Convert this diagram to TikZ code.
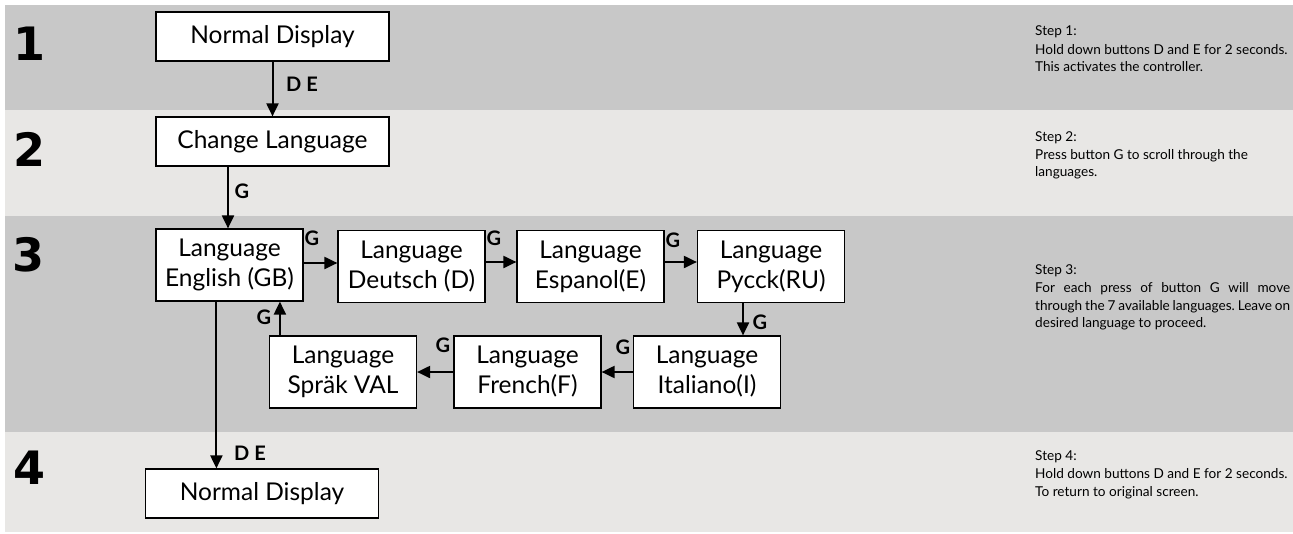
\documentclass[tikz,border=0pt]{standalone}
\usepackage{fontspec}
\setmainfont{Lato}
\newfontfamily\digitfont{DejaVu Sans}
\usetikzlibrary{arrows.meta}
\definecolor{bandA}{HTML}{C8C8C8}
\definecolor{bandB}{HTML}{E8E7E5}
\frenchspacing
\newcommand{\justline}[1]{\makebox[255pt][s]{#1}}
\begin{document}
\begin{tikzpicture}[x=1pt,y=-1pt,
  box/.style={draw=black, line width=1.2pt, fill=white, inner sep=0pt, align=center, font=\fontsize{24.5}{30}\selectfont},
  wide/.style={box, minimum width=233pt, minimum height=49pt},
  lang/.style={box, minimum width=147pt, minimum height=72pt},
  arr/.style={line width=2pt, -{Triangle[length=13pt,width=12pt]}},
  lbl/.style={font=\bfseries\fontsize{20}{22}\selectfont, inner sep=0pt},
  num/.style={font=\digitfont\bfseries\fontsize{46}{50}\selectfont, inner sep=0pt},
  steptxt/.style={anchor=base west, inner sep=0pt, font=\fontsize{13.6}{17}\selectfont}
]
\useasboundingbox (0,0) rectangle (1293,533);
% bands
\fill[bandA] (5,5) rectangle (1293,110);
\fill[bandB] (5,110) rectangle (1293,216);
\fill[bandA] (5,216) rectangle (1293,432);
\fill[bandB] (5,432) rectangle (1293,532);
% step numbers
\node[num] (n1) at (30,44) {1};
\node[num] (n2) at (30,149) {2};
\node[num] (n3) at (29,255) {3};
\node[num] (n4) at (30,468) {4};
% boxes
\node[wide] (nd1) at (272.5,36.5) {Normal Display};
\node[wide] (chg) at (272.5,141.5) {Change Language};
\node[lang] (eng) at (229.5,265) {Language\\English (GB)};
\node[lang] (deu) at (411.5,266.5) {Language\\Deutsch (D)};
\node[lang] (esp) at (590.5,266.5) {Language\\Espanol(E)};
\node[lang] (ru) at (771,266.5) {Language\\Pycck(RU)};
\node[lang] (ita) at (707,372) {Language\\Italiano(I)};
\node[lang] (fra) at (527.5,372) {Language\\French(F)};
\node[lang] (sve) at (343,372) {Language\\Spräk VAL};
\node[wide] (nd4) at (262,493.5) {Normal Display};
% connectors
\draw[arr] (nd1) -- (chg);
\draw[arr] ([xshift=-44.5pt]chg.south) -- ([xshift=-44.5pt]chg.south |- eng.north);
\draw[arr] ([yshift=2pt]eng.east) -- ([yshift=2pt]eng.east -| deu.west);
\draw[arr] ([yshift=4.5pt]deu.east) -- ([yshift=4.5pt]deu.east -| esp.west);
\draw[arr] ([yshift=4.5pt]esp.east) -- ([yshift=4.5pt]esp.east -| ru.west);
\draw[arr] ([xshift=-28pt]ru.south) -- ([xshift=-28pt]ru.south |- ita.north);
\draw[arr] (ita.west) -- (fra.east);
\draw[arr] (fra.west) -- (sve.east);
\draw[arr] ([xshift=11pt]sve.north west) -- ([xshift=11pt]sve.north west |- eng.south);
\draw[arr] ([xshift=61pt]eng.south west) -- ([xshift=61pt]eng.south west |- nd4.north);
% labels
\node[lbl] (l1) at (302,84) {D E};
\node[lbl] (l2) at (242,191) {G};
\node[lbl] (l3) at (312,238) {G};
\node[lbl] (l4) at (494,238) {G};
\node[lbl] (l5) at (673,240) {G};
\node[lbl] (l6) at (760,322) {G};
\node[lbl] (l7) at (623,347) {G};
\node[lbl] (l8) at (443,345) {G};
\node[lbl] (l9) at (264,317) {G};
\node[lbl] (l10) at (250,453) {D E};
% step texts
\node[steptxt] (s1a) at (1035,35) {Step 1:};
\node[steptxt] (s1b) at (1035,54) {Hold down buttons D and E for 2 seconds.};
\node[steptxt] (s1c) at (1035,71) {This activates the controller.};
\node[steptxt] (s2a) at (1035,141) {Step 2:};
\node[steptxt] (s2b) at (1035,159) {Press button G to scroll through the};
\node[steptxt] (s2c) at (1035,176) {languages.};
\node[steptxt] (s3a) at (1035,274) {Step 3:};
\node[steptxt] (s3b) at (1035,292) {\justline{For each press of button G will move}};
\node[steptxt] (s3c) at (1035,310) {\justline{through the 7 available languages. Leave on}};
\node[steptxt] (s3d) at (1035,327) {desired language to proceed.};
\node[steptxt] (s4a) at (1035,460) {Step 4:};
\node[steptxt] (s4b) at (1035,478) {Hold down buttons D and E for 2 seconds.};
\node[steptxt] (s4c) at (1035,496) {To return to original screen.};
\end{tikzpicture}
\end{document}
